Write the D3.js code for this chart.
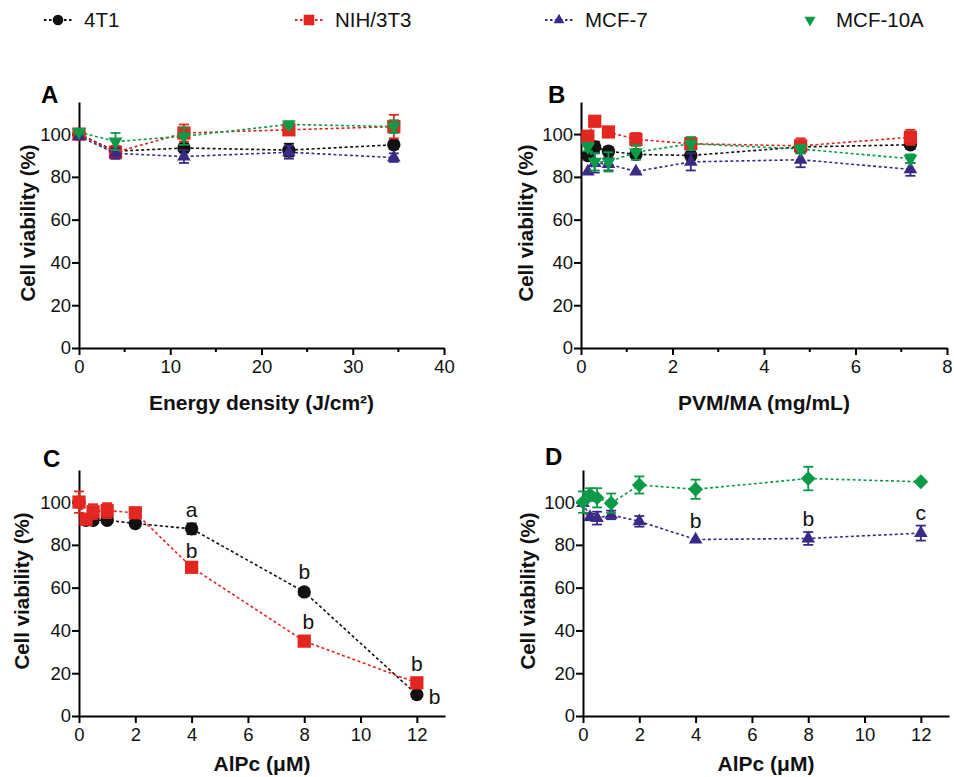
<!DOCTYPE html>
<html><head><meta charset="utf-8">
<script src="https://cdn.jsdelivr.net/npm/d3@7"></script>
<style>
body{margin:0;background:#fff;}
text{font-family:"Liberation Sans",Arial,Helvetica,sans-serif;}
</style></head>
<body><svg id="chart" width="954" height="777"></svg>
<script>
// ---------- DATA ----------
const seriesNames = ["4T1", "NIH/3T3", "MCF-7", "MCF-10A"];
const seriesColors = ["#111111", "#e3261f", "#3b2a85", "#0d9a48"];

// Panel A: energy density (J/cm2)
const energyX = [0, 4, 11.5, 23, 34.5];
const A_4T1 = [100, 92, 93.5, 92.5, 95];
const A_4T1_err = [1, 2, 2, 3, 2];
const A_NIH = [100, 91.5, 100.5, 102, 103.5];
const A_NIH_err = [1.5, 3, 4, 2, 5.5];
const A_MCF7 = [99, 91, 89.5, 91.5, 89];
const A_MCF7_err = [1, 2.5, 3, 3, 2];
const A_MCF10A = [101, 96.5, 99, 104.5, 103.5];
const A_MCF10A_err = [1, 4, 4, 1.5, 3];

// Panel B: PVM/MA (mg/mL)
const pvmX = [0.15, 0.3, 0.6, 1.2, 2.4, 4.8, 7.2];
const B_4T1 = [90, 94, 92, 90.5, 90, 94, 95];
const B_4T1_err = [1, 2.5, 2, 1.5, 2, 1, 2];
const B_NIH = [99, 106, 101, 97.5, 95.5, 94.5, 98.5];
const B_NIH_err = [0, 0, 0, 3, 3, 3.5, 3.5];
const B_MCF7 = [82.5, 86.5, 86, 82.5, 87, 88, 83.5];
const B_MCF7_err = [0, 4.5, 3, 0, 4, 3.5, 3];
const B_MCF10A = [94, 87, 87, 91.5, 95.5, 93, 88.5];
const B_MCF10A_err = [2, 4, 4.5, 3.5, 3, 2, 2];

// Panel C / D: AlPc (uM)
const alpcX = [0, 0.25, 0.5, 1, 2, 4, 8, 12];
const C_4T1 = [100, 91.5, 91.5, 91.5, 90, 87.5, 58, 10];
const C_4T1_err = [0, 0, 1, 1, 1, 2.5, 1, 1];
const C_NIH = [100, 92, 95.5, 96, 95, 69.5, 35, 15.5];
const C_NIH_err = [5, 1, 3.5, 3.5, 1, 1, 1, 1];
const D_MCF7 = [99.5, 93, 92.5, 94, 91, 82.5, 83, 85.5];
const D_MCF7_err = [1, 1.5, 3, 2, 2.5, 0, 3, 3.5];
const D_MCF10A = [100, 103.5, 102, 99.5, 108, 106, 111, 109.5];
const D_MCF10A_err = [5, 3, 4.5, 4.5, 4, 4.5, 5.5, 0];

// significance letters (data coordinates)
const C_letters = [
  {x: 4, y: 93, t: "a"}, {x: 4, y: 74, t: "b"},
  {x: 8, y: 64, t: "b"}, {x: 8.15, y: 40.5, t: "b"},
  {x: 12, y: 21, t: "b"}, {x: 12.63, y: 5.8, t: "b"}
];
const D_letters = [
  {x: 4, y: 88, t: "b"}, {x: 8, y: 89, t: "b"}, {x: 12, y: 91.5, t: "c"}
];

const yTicks = [0, 20, 40, 60, 80, 100];
const yTitle = "Cell viability (%)";

// ---------- DRAW ----------
const svg = d3.select("#chart");

const zip = (xs, ys, es) => xs.map((x, i) => ({x, y: ys[i], e: es[i]}));

const panels = [
  {letter: "A", lx: 41, ly: 103, x0: 79, x1: 444, y0: 348, y1: 102, xdom: [0, 40],
   xt: [0, 10, 20, 30, 40], minor: [5, 15, 25, 35], title: "Energy density (J/cm²)", ytx: 27, tty: 410,
   series: [
     {s: 0, d: zip(energyX, A_4T1, A_4T1_err)},
     {s: 1, d: zip(energyX, A_NIH, A_NIH_err)},
     {s: 2, d: zip(energyX, A_MCF7, A_MCF7_err)},
     {s: 3, d: zip(energyX, A_MCF10A, A_MCF10A_err)}], letters: []},
  {letter: "B", lx: 548, ly: 103, x0: 581, x1: 947, y0: 348, y1: 102, xdom: [0, 8],
   xt: [0, 2, 4, 6, 8], minor: [1, 3, 5, 7], title: "PVM/MA (mg/mL)", ytx: 525, tty: 410,
   series: [
     {s: 0, d: zip(pvmX, B_4T1, B_4T1_err)},
     {s: 1, d: zip(pvmX, B_NIH, B_NIH_err)},
     {s: 2, d: zip(pvmX, B_MCF7, B_MCF7_err)},
     {s: 3, d: zip(pvmX, B_MCF10A, B_MCF10A_err)}], letters: []},
  {letter: "C", lx: 43, ly: 467, x0: 79, x1: 445, y0: 716, y1: 470, xdom: [0, 13],
   xt: [0, 2, 4, 6, 8, 10, 12], minor: [], title: "AlPc (μM)", ytx: 21, tty: 771,
   series: [
     {s: 0, d: zip(alpcX, C_4T1, C_4T1_err)},
     {s: 1, d: zip(alpcX, C_NIH, C_NIH_err)}], letters: C_letters},
  {letter: "D", lx: 545, ly: 465, x0: 583, x1: 949, y0: 716, y1: 470, xdom: [0, 13],
   xt: [0, 2, 4, 6, 8, 10, 12], minor: [], title: "AlPc (μM)", ytx: 527, tty: 771,
   series: [
     {s: 2, d: zip(alpcX, D_MCF7, D_MCF7_err)},
     {s: 3, d: zip(alpcX, D_MCF10A, D_MCF10A_err), diamond: true}], letters: D_letters}
];

function symbolPath(s, diamond) {
  if (diamond) return {p: d3.symbol().type(d3.symbolSquare).size(110)(), rot: 45};
  if (s === 0) return {p: d3.symbol().type(d3.symbolCircle).size(140)(), rot: 0};
  if (s === 1) return {p: d3.symbol().type(d3.symbolSquare).size(175)(), rot: 0};
  if (s === 2) return {p: d3.symbol().type(d3.symbolTriangle).size(80)(), rot: 0};
  return {p: d3.symbol().type(d3.symbolTriangle).size(85)(), rot: 180};
}

panels.forEach(P => {
  const x = d3.scaleLinear().domain(P.xdom).range([P.x0, P.x1]);
  const y = d3.scaleLinear().domain([0, 115]).range([P.y0, P.y1]);
  const g = svg.append("g");

  // axes
  const xa = g.append("g").attr("transform", `translate(0,${P.y0})`)
    .call(d3.axisBottom(x).tickValues(P.xt).tickSize(7).tickSizeOuter(0).tickPadding(5).tickFormat(d3.format("d")));
  const ya = g.append("g").attr("transform", `translate(${P.x0},0)`)
    .call(d3.axisLeft(y).tickValues(yTicks).tickSize(7).tickSizeOuter(0).tickPadding(1));
  [xa, ya].forEach(a => {
    a.attr("font-size", null).attr("font-family", null);
    a.select(".domain").attr("stroke", "#000").attr("stroke-width", 2);
    a.selectAll(".tick line").attr("stroke", "#000").attr("stroke-width", 2);
    a.selectAll(".tick text").attr("fill", "#111")
      .style("font-size", "18.5px").style("font-family", '"Liberation Sans",Arial,sans-serif');
  });
  // minor ticks
  g.selectAll(".minor").data(P.minor).join("line")
    .attr("x1", d => x(d)).attr("x2", d => x(d))
    .attr("y1", P.y0).attr("y2", P.y0 + 4).attr("stroke", "#000").attr("stroke-width", 2);

  // titles
  g.append("text").attr("x", (P.x0 + P.x1) / 2).attr("y", P.tty)
    .attr("text-anchor", "middle").attr("font-weight", "bold").attr("font-size", 21)
    .attr("fill", "#111").text(P.title);
  g.append("text").attr("transform", `translate(${P.ytx},${(P.y0 + P.y1) / 2 - 2}) rotate(-90)`)
    .attr("text-anchor", "middle").attr("dominant-baseline", "central")
    .attr("font-weight", "bold").attr("font-size", 20.5).attr("fill", "#111").text(yTitle);
  g.append("text").attr("x", P.lx).attr("y", P.ly).attr("font-weight", "bold")
    .attr("font-size", 24).attr("fill", "#000").text(P.letter);

  // series
  const line = d3.line().x(d => x(d.x)).y(d => y(d.y));
  P.series.forEach(S => {
    const col = seriesColors[S.s];
    const sg = g.append("g");
    sg.append("path").attr("d", line(S.d)).attr("fill", "none").attr("stroke", col)
      .attr("stroke-width", 1.6).attr("stroke-dasharray", "3,2.5");
    const eb = sg.selectAll(".eb").data(S.d.filter(d => d.e > 0)).join("g");
    eb.append("line").attr("x1", d => x(d.x)).attr("x2", d => x(d.x))
      .attr("y1", d => y(d.y - d.e)).attr("y2", d => y(d.y + d.e))
      .attr("stroke", col).attr("stroke-width", 1.8);
    [-1, 1].forEach(sign => {
      eb.append("line").attr("x1", d => x(d.x) - 5).attr("x2", d => x(d.x) + 5)
        .attr("y1", d => y(d.y + sign * d.e)).attr("y2", d => y(d.y + sign * d.e))
        .attr("stroke", col).attr("stroke-width", 1.8);
    });
    const sym = symbolPath(S.s, S.diamond);
    sg.selectAll(".pt").data(S.d).join("path").attr("d", sym.p)
      .attr("transform", d => `translate(${x(d.x)},${y(d.y)}) rotate(${sym.rot})`)
      .attr("fill", col);
  });

  // letters
  g.selectAll(".lt").data(P.letters).join("text")
    .attr("x", d => x(d.x)).attr("y", d => y(d.y)).attr("text-anchor", "middle")
    .attr("font-size", 21).attr("fill", "#111").text(d => d.t);
});

// legend
const legendX = [58, 309, 559, 810];
const lg = svg.append("g");
seriesNames.forEach((n, i) => {
  const cx = legendX[i], cy = 20;
  const col = seriesColors[i];
  if (i < 3) {
    lg.append("line").attr("x1", cx - 14).attr("x2", cx + 14).attr("y1", cy).attr("y2", cy)
      .attr("stroke", col).attr("stroke-width", 1.8).attr("stroke-dasharray", "2.5,2.5");
  }
  const sym = symbolPath(i, false);
  lg.append("path").attr("d", sym.p)
    .attr("transform", `translate(${cx},${cy}) rotate(${sym.rot}) scale(0.8)`).attr("fill", col);
  lg.append("text").attr("x", cx + 26).attr("y", cy + 7).attr("font-size", 20.5)
    .attr("fill", "#111").text(n);
});
</script></body></html>
